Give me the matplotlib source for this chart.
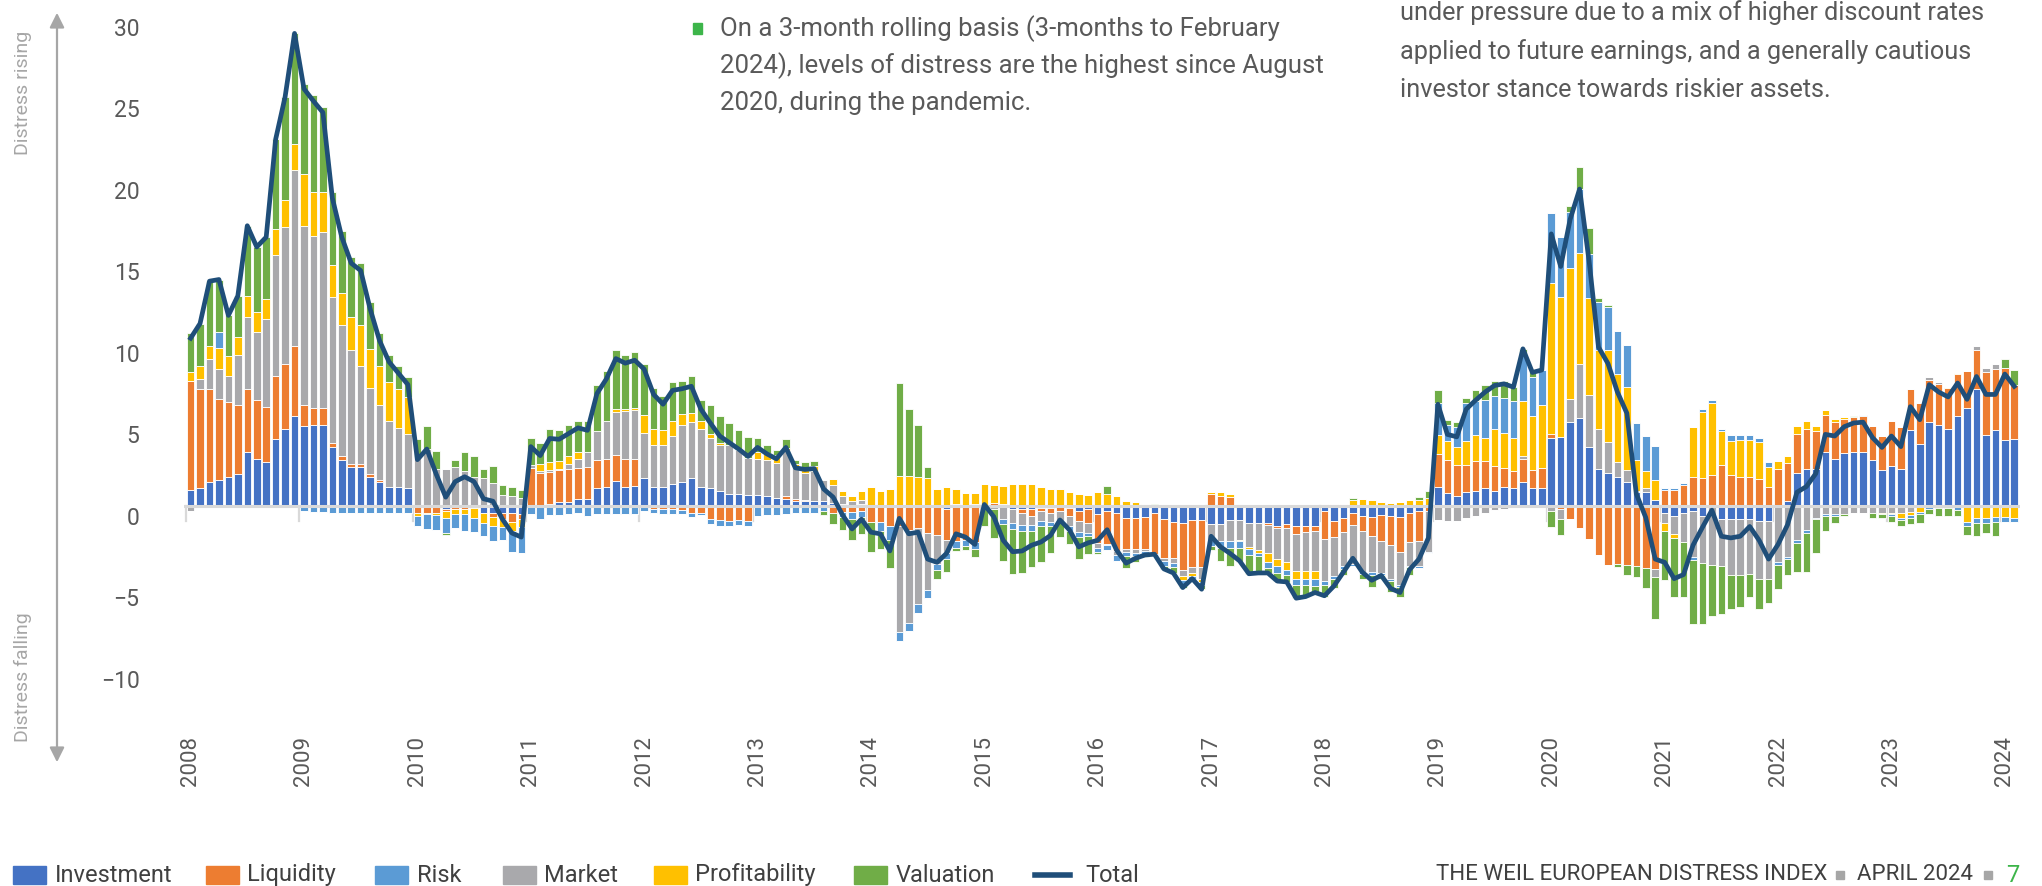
import numpy as np
import matplotlib
matplotlib.use('Agg')
import matplotlib.pyplot as plt
from matplotlib.patches import Rectangle, FancyArrowPatch
from matplotlib.lines import Line2D
from matplotlib.transforms import ScaledTranslation

plt.rcParams['font.family'] = ['Roboto', 'DejaVu Sans']

# monthly values, Jan 2008 - Feb 2024 (one row per year)
investment = [
    1.0, 1.1, 1.5, 1.6, 1.8, 2.0, 3.3, 2.9, 2.7, 4.1, 4.7, 5.5,
    4.9, 5.0, 5.0, 3.6, 2.8, 2.4, 2.4, 1.8, 1.5, 1.2, 1.2, 1.1,
    0, 0, 0, -0.2, 0, 0, -0.1, -0.4, -0.45, -0.45, -0.45, -0.5,
    0, 0, 0.15, 0.25, 0.25, 0.45, 0.45, 1.1, 1.2, 1.55, 1.2, 1.25,
    1.7, 1.2, 1.2, 1.35, 1.45, 1.75, 1.2, 1.1, 0.9, 0.75, 0.75, 0.7,
    0.7, 0.6, 0.5, 0.45, 0.3, 0.3, 0.3, 0.3, 0.2, 0.15, 0, 0.1,
    0, 0, 0, 0, 0, 0, 0, 0, -0.15, 0, 0, 0,
    0, 0, 0, -0.2, -0.2, -0.2, -0.1, -0.1, 0, -0.1, -0.3, -0.2,
    -0.5, -0.3, -0.45, -0.7, -0.7, -0.65, -0.45, -0.8, -0.95, -1.05, -0.85, -0.85,
    -1.1, -1.1, -0.85, -0.85, -1.05, -1.05, -1.05, -1.2, -1.1, -1.2, -1.25, -1.25,
    -0.3, -0.9, -0.7, -0.45, -0.6, -0.65, -0.55, -0.6, -0.65, -0.45, -0.3, 0,
    1.15, 0.8, 0.65, 0.85, 0.9, 1.1, 0.9, 1.15, 1.1, 1.5, 1.1, 1.1,
    4.15, 4.25, 5.15, 5.4, 3.6, 2.3, 2.05, 1.8, 1.45, 0.85, 0.85, 0.35,
    -0.45, -0.6, -0.4, -0.3, -0.6, 0, -0.8, -0.8, -0.8, -0.8, -0.9, -0.9,
    0, 0.3, 2.05, 2.25, 2.3, 3.35, 2.9, 3.25, 3.3, 3.3, 2.85, 2.2,
    2.45, 2.25, 4.65, 3.8, 5.15, 5.0, 4.7, 5.55, 6.0, 7.2, 4.35, 4.65,
    4.05, 4.1,
]
liquidity = [
    6.7, 6.1, 5.7, 5.0, 4.6, 4.2, 3.9, 3.6, 3.4, 3.9, 4.0, 4.3,
    1.3, 1.0, 1.0, 0.3, 0.3, 0.2, 0.2, 0.15, 0.1, 0, 0, 0,
    -0.4, -0.4, -0.4, -0.1, -0.15, -0.15, 0, 0, -0.2, -0.35, -0.5, -0.3,
    2.35, 2.05, 1.95, 1.95, 2.05, 1.9, 1.95, 1.75, 1.7, 1.6, 1.7, 1.65,
    0, -0.2, -0.2, -0.2, -0.25, -0.45, -0.4, -0.8, -0.85, -0.9, -0.85, -0.9,
    0, 0, 0, 0.15, 0.15, 0.1, 0, 0, -0.4, -0.35, -0.35, -0.3,
    -1.0, -0.95, -1.25, -1.25, -1.45, -1.35, -1.65, -1.75, -1.9, -2.15, -2.05, -2.2,
    0, 0.2, 0.1, 0, -0.2, -0.4, -0.2, -0.3, -0.3, -0.5, -0.6, -0.85,
    -1.75, -2.0, -2.3, -1.95, -1.95, -2.0, -2.5, -2.4, -2.25, -2.85, -2.9, -2.9,
    0.75, 0.65, 0.55, 0.1, 0, 0, -0.1, -0.15, -0.25, -0.5, -0.35, -0.3,
    -1.7, -1.0, -0.9, -0.7, -0.9, -1.2, -1.6, -1.8, -2.15, -1.75, -1.85, -0.3,
    2.05, 2.05, 1.9, 1.7, 1.85, 1.65, 1.55, 1.2, 1.05, 1.4, 1.1, 1.25,
    0.3, -0.2, -0.8, -1.35, -2.0, -3.0, -3.6, -3.55, -3.6, -3.65, -3.8, -3.85,
    1.0, 1.0, 1.3, 1.8, 1.7, 1.9, 2.5, 1.9, 1.8, 1.8, 1.65, 1.15,
    2.3, 2.35, 2.35, 2.5, 2.3, 2.25, 2.25, 2.1, 2.15, 2.2, 2.05, 2.1,
    2.8, 2.6, 2.55, 2.55, 2.6, 2.5, 2.55, 2.55, 2.3, 2.35, 3.9, 3.75,
    4.4, 3.3,
]
market = [
    -0.3, 0.6, 1.8, 1.8, 1.6, 3.1, 4.4, 4.2, 5.4, 7.4, 8.4, 10.8,
    11.0, 10.6, 10.8, 8.9, 8.0, 7.0, 6.0, 5.3, 4.6, 4.0, 3.6, 3.3,
    3.0, 3.5, 2.3, 2.3, 2.4, 2.15, 1.8, 1.7, 1.4, 0.7, 0.6, 0.5,
    0.2, 0.1, 0.1, 0.1, 0.3, 0.55, 0.9, 1.75, 2.35, 2.6, 2.95, 3.0,
    2.8, 2.55, 2.55, 2.95, 3.5, 3.4, 3.5, 3.05, 2.85, 3.0, 2.7, 2.25,
    2.2, 2.25, 2.15, 2.85, 1.95, 1.65, 1.85, 1.3, 1.1, 0.45, 0.3, 0.3,
    0, 0, 0, -6.45, -5.7, -4.65, -3.5, -1.8, -0.8, 0.1, 0, 0.1,
    0, -0.15, -0.8, -0.85, -0.75, -0.55, -0.6, -0.55, -0.7, -0.6, -0.7, -0.6,
    -0.3, -0.1, -0.25, -0.15, -0.2, -0.1, -0.1, -0.15, -0.3, -0.4, -0.35, -0.75,
    -1.05, -1.05, -1.3, -1.2, -1.45, -1.65, -1.75, -1.9, -2.05, -2.3, -2.4, -2.45,
    -2.6, -2.4, -2.05, -2.4, -2.55, -2.2, -1.95, -2.05, -2.05, -1.45, -1.55, -2.5,
    -0.85, -0.9, -0.9, -0.7, -0.6, -0.4, -0.25, -0.2, 0, 0.15, 0, 0,
    -0.3, -0.6, 1.45, 3.3, 3.2, 2.45, 1.9, 0.9, 0.75, 0.1, 0.25, -0.5,
    -0.6, -1.1, -1.8, -2.85, -2.9, -3.6, -2.9, -3.4, -3.4, -3.35, -3.55, -3.6,
    -3.4, -3.1, -2.05, -1.45, -0.7, -0.5, -0.5, -0.5, -0.45, -0.45, -0.4, -0.4,
    -0.4, -0.4, -0.35, 0, 0.15, 0.1, 0, 0, 0, 0.25, 0.25, 0.3,
    0, 0,
]
profitability = [
    0.5, 0.8, 0.8, 1.3, 1.2, 1.1, 1.3, 1.2, 1.2, 1.6, 1.7, 1.6,
    3.2, 2.7, 2.5, 2.0, 2.0, 2.0, 2.5, 2.4, 2.4, 2.4, 2.4, 2.3,
    -0.2, -0.1, -0.15, -0.45, -0.35, -0.35, -0.6, -0.65, -0.6, -0.5, -0.6, -0.5,
    0, 0.45, 0.5, 0.45, 0.5, 0.4, 0, 0, 0, 0.2, 0.12, 0.1,
    1.1, 1.0, 0.9, 0.9, 0.7, 0.55, 0.5, 0.3, 0.15, 0, 0, 0,
    0.45, 0.4, 0.5, 0.1, 0.2, 0.3, 0.3, 0, 0.35, 0.3, 0.35, 0.5,
    1.2, 0.95, 1.05, 1.85, 1.85, 1.8, 1.7, 1.05, 1.15, 0.95, 0.8, 0.7,
    1.35, 1.1, 1.15, 1.35, 1.35, 1.35, 1.2, 1.05, 1.05, 0.85, 0.75, 0.7,
    0.85, 0.75, 0.65, 0.3, 0.25, 0.15, 0, 0, 0, -0.25, -0.2, -0.15,
    0.1, 0.2, 0.2, -0.1, -0.15, -0.15, -0.5, -0.45, -0.5, -0.45, -0.45, -0.45,
    0.1, 0.1, 0.15, 0.4, 0.45, 0.4, 0.25, 0.2, 0.25, 0.35, 0.4, 0.5,
    1.15, 1.15, 1.1, 1.45, 1.6, 1.45, 2.25, 2.15, 2.05, 3.4, 3.3, 3.85,
    9.25, 8.55, 8.0, 6.8, 5.95, 4.8, 5.6, 5.4, 5.1, 1.85, 1.05, 1.25,
    -0.5, -0.25, 0, 3.05, 4.1, 4.4, 2.1, 2.1, 2.25, 2.25, 2.3, 1.25,
    0.45, 0.4, 0.5, 0.5, 0.3, 0.3, 0.2, 0.12, 0, 0, 0, -0.1,
    -0.1, -0.3, -0.2, -0.35, 0.05, 0, 0.05, 0.05, -0.95, -0.75, -0.75, -0.65,
    -0.65, -0.7,
]
risk = [
    0, 0, 0, 1.0, 0, 0, 0, 0, 0, 0, 0, 0,
    -0.3, -0.35, -0.35, -0.4, -0.4, -0.4, -0.45, -0.45, -0.45, -0.45, -0.45, -0.45,
    -0.65, -0.9, -0.9, -0.9, -0.85, -1.0, -0.9, -0.8, -0.9, -0.8, -1.25, -1.6,
    -0.5, -0.8, -0.55, -0.55, -0.5, -0.45, -0.6, -0.5, -0.5, -0.5, -0.5, -0.5,
    -0.3, -0.2, -0.3, -0.3, -0.25, -0.2, -0.15, -0.3, -0.35, -0.3, -0.3, -0.3,
    -0.6, -0.55, -0.55, -0.5, -0.45, -0.45, -0.45, -0.3, 0, -0.3, -0.45, -0.35,
    0, -0.6, -0.8, -0.6, -0.5, -0.55, -0.5, -0.4, -0.4, -0.45, -0.4, -0.45,
    0, 0, -0.3, -0.35, -0.35, -0.35, -0.35, -0.25, 0, -0.3, -0.3, -0.2,
    -0.25, -0.3, -0.35, -0.25, -0.2, -0.3, 0, -0.3, -0.25, -0.25, -0.15, -0.2,
    -0.3, -0.4, -0.45, -0.45, -0.35, -0.2, -0.4, -0.4, -0.35, -0.4, -0.4, -0.45,
    -0.25, -0.2, -0.2, -0.15, -0.1, -0.15, -0.15, -0.15, -0.1, -0.1, -0.1, -0.1,
    1.95, 1.0, 1.2, 2.3, 2.1, 2.3, 2.05, 2.15, 2.25, 2.9, 2.4, 2.15,
    4.3, 3.7, 3.45, 3.95, 2.7, 3.0, 2.65, 2.65, 2.6, 2.3, 2.15, 2.1,
    0.1, 0.1, 0.1, -0.15, 0.15, 0.2, 0.15, 0.35, 0.3, 0.3, 0.25, 0.3,
    -0.2, -0.15, -0.2, -0.2, -0.1, -0.1, -0.1, 0, 0, 0.1, 0, 0,
    -0.1, -0.15, -0.2, -0.15, -0.15, -0.1, -0.1, -0.25, -0.25, -0.3, -0.3, -0.3,
    -0.3, -0.3,
]
valuation = [
    2.4, 2.6, 4.0, 3.2, 2.5, 2.5, 4.3, 4.0, 3.8, 5.5, 6.3, 6.8,
    5.5, 5.9, 5.2, 4.5, 3.8, 3.7, 3.8, 2.9, 2.0, 1.7, 1.4, 1.2,
    1.1, 1.4, 1.1, -0.1, 0.45, 1.15, 1.3, 0.6, 1.05, 0.6, 0.55, 0.5,
    1.6, 1.3, 2.0, 1.9, 1.85, 1.95, 1.95, 2.8, 3.05, 3.6, 3.3, 3.45,
    3.1, 2.5, 2.1, 2.4, 2.05, 2.3, 1.3, 1.75, 1.6, 1.35, 1.2, 1.3,
    0.85, 0.5, 0.3, 0.55, 0.2, 0.35, 0.3, -0.25, -0.7, -0.8, -1.25, -1.05,
    -1.8, -1.1, -1.75, 5.7, 4.1, 3.15, 0.7, -0.55, -0.8, -0.15, -0.25, -0.5,
    -1.25, -1.8, -2.25, -2.75, -2.6, -2.25, -2.15, -1.65, -0.9, -0.8, -1.35, -1.1,
    -0.15, 0.5, 0, -0.75, -0.4, -0.1, 0.1, -0.2, -0.35, -0.2, 0, -0.25,
    -0.25, -0.8, -1.05, -0.85, -1.15, -1.05, -0.3, -0.5, -0.4, -0.8, -0.7, -0.4,
    -0.75, -0.5, -0.35, 0.1, -0.35, -0.75, -0.25, -0.65, -0.6, -0.5, 0.15, 0.45,
    0.8, 0.3, 0.3, 0.35, 0.65, 0.9, 0.9, 1.05, 0.85, 0.3, 0.3, 0,
    -1.0, -1.0, 0.35, 1.35, 1.6, 0.2, 0.15, -0.2, -0.6, -0.7, -1.2, -2.6,
    -3.0, -3.6, -3.4, -3.95, -3.75, -3.15, -2.9, -2.1, -2.0, -1.45, -1.85, -1.45,
    -1.5, -0.95, -1.8, -2.4, -2.1, -0.9, -0.45, -0.1, 0.1, 0, -0.3, -0.2,
    -0.35, -0.35, -0.35, -0.55, -0.35, -0.5, -0.5, -0.35, -0.55, -0.8, -0.6, -0.9,
    0.6, 0.95,
]

year_labels = [str(y) for y in range(2008, 2025)]

# stacking order as drawn in the chart (bottom to top)
series = [
    ('Investment', investment, '#4472C4'),
    ('Liquidity', liquidity, '#ED7D31'),
    ('Market', market, '#A9A9AC'),
    ('Profitability', profitability, '#FFC000'),
    ('Risk', risk, '#5B9BD5'),
    ('Valuation', valuation, '#70AD47'),
]
colors = {name: c for name, _, c in series}
total_color = '#1F4E79'

n = len(investment)
x = np.arange(n)
total = np.sum([np.array(v) for _, v, _ in series], axis=0)

fig = plt.figure(figsize=(20.42, 8.86), dpi=100)
ax = fig.add_axes([0.0901, 0.1896, 0.8991, 0.8003])

pos_bottom = np.zeros(n)
neg_bottom = np.zeros(n)
for name, vals, col in series:
    v = np.array(vals, dtype=float)
    pos = np.where(v > 0, v, 0)
    neg = np.where(v < 0, v, 0)
    ax.bar(x, pos, bottom=pos_bottom, width=0.8, color=col,
           edgecolor='white', linewidth=0.6, zorder=2)
    ax.bar(x, neg, bottom=neg_bottom, width=0.8, color=col,
           edgecolor='white', linewidth=0.6, zorder=2)
    pos_bottom += pos
    neg_bottom += neg

# zero line and year ticks
ax.axhline(0, color='#D9D9D9', lw=2.2, zorder=3)
for k in range(0, n, 12):
    ax.plot([k - 0.5, k - 0.5], [0, -0.9], color='#D9D9D9', lw=1.6, zorder=1)

ax.plot(x, total, color=total_color, lw=3.4, zorder=4,
        solid_joinstyle='round')

ax.set_xlim(-0.7, n - 0.4)
ax.set_ylim(-13, 30.5)
ax.set_yticks(range(-10, 31, 5))
ax.set_xticks(range(0, n, 12))
ax.set_xticklabels(year_labels, rotation=90, va='top', ha='center')
ax.tick_params(axis='y', length=0, pad=32, labelsize=16.5, labelcolor='#595959')
ax.tick_params(axis='x', length=0, pad=13, labelsize=16, labelcolor='#595959')
# y labels sit a little below their values in the original
shift = ScaledTranslation(0, -7 / 72, fig.dpi_scale_trans)
for lab in ax.get_yticklabels():
    lab.set_transform(lab.get_transform() + shift)
for s in ax.spines.values():
    s.set_visible(False)

W, H = 2042.0, 886.0

# left arrow and side captions
arrow = FancyArrowPatch((57 / W, 1 - 765 / H), (57 / W, 1 - 10 / H),
                        transform=fig.transFigure, arrowstyle='<|-|>',
                        mutation_scale=22, color='#A6A6A6', lw=1.6)
fig.add_artist(arrow)
fig.text(23 / W, 1 - 93 / H, 'Distress rising', rotation=90, ha='center',
         va='center', fontsize=14, color='#A6A6A6')
fig.text(23 / W, 1 - 677 / H, 'Distress falling', rotation=90, ha='center',
         va='center', fontsize=14, color='#A6A6A6')

# annotations at top
fig.add_artist(Rectangle((693 / W, 1 - 34 / H), 9 / W, 11 / H,
                         transform=fig.transFigure, color='#3DB54A'))
note1 = ['On a 3-month rolling basis (3-months to February',
         '2024), levels of distress are the highest since August',
         '2020, during the pandemic.']
for i, line in enumerate(note1):
    fig.text(720 / W, 1 - (29 + 37 * i) / H, line, ha='left', va='center',
             fontsize=18.5, color='#595959')
note2 = ['under pressure due to a mix of higher discount rates',
         'applied to future earnings, and a generally cautious',
         'investor stance towards riskier assets.']
for i, line in enumerate(note2):
    fig.text(1400 / W, 1 - (13 + 38.5 * i) / H, line, ha='left', va='center',
             fontsize=18.2, color='#595959')

# legend along the bottom
ly = 1 - 875 / H
legend_items = [('Investment', 13, 55), ('Liquidity', 206, 247), ('Risk', 375, 417),
                ('Market', 503, 544), ('Profitability', 654, 695),
                ('Valuation', 854, 896)]
for name, px, tx in legend_items:
    fig.add_artist(Rectangle((px / W, ly - 9 / H), 33 / W, 18 / H,
                             transform=fig.transFigure, color=colors[name]))
    fig.text(tx / W, ly, name, ha='left', va='center', fontsize=17, color='#404040')
fig.add_artist(Line2D([1035 / W, 1070 / W], [ly, ly], transform=fig.transFigure,
                      color=total_color, lw=4))
fig.text(1085 / W, ly, 'Total', ha='left', va='center', fontsize=17, color='#404040')

# footer
fig.text(1827 / W, ly, 'THE WEIL EUROPEAN DISTRESS INDEX', ha='right', va='center',
         fontsize=16, color='#404040')
fig.add_artist(Rectangle((1836 / W, ly - 4 / H), 8 / W, 8 / H,
                         transform=fig.transFigure, color='#A6A6A6'))
fig.text(1973 / W, ly, 'APRIL 2024', ha='right', va='center', fontsize=16, color='#404040')
fig.add_artist(Rectangle((1984 / W, ly - 4 / H), 8 / W, 8 / H,
                         transform=fig.transFigure, color='#A6A6A6'))
fig.text(2006 / W, ly, '7', ha='left', va='center', fontsize=17, color='#3DB54A')

fig.savefig('out.png', dpi=100)
